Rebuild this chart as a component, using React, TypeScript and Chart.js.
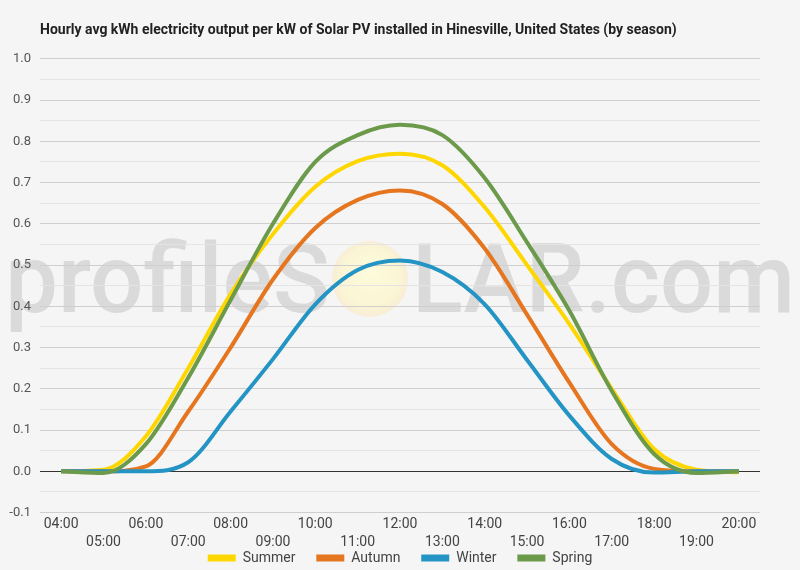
import React, { useEffect, useRef } from "react";
import { Chart, registerables } from "chart.js";

Chart.register(...registerables);

const hours = ["04:00","05:00","06:00","07:00","08:00","09:00","10:00","11:00","12:00","13:00","14:00","15:00","16:00","17:00","18:00","19:00","20:00"];
const summer = [0, 0.004, 0.085, 0.25, 0.43, 0.575, 0.69, 0.752, 0.77, 0.742, 0.64, 0.5, 0.357, 0.2, 0.054, 0.004, -0.002];
const autumn = [0, 0, 0.012, 0.145, 0.3, 0.465, 0.59, 0.658, 0.681, 0.648, 0.54, 0.38, 0.215, 0.066, 0.006, 0, 0];
const winter = [0, 0, 0, 0.022, 0.145, 0.272, 0.405, 0.488, 0.511, 0.483, 0.405, 0.27, 0.135, 0.03, -0.003, 0, 0];
const spring = [0, -0.004, 0.066, 0.227, 0.415, 0.6, 0.75, 0.815, 0.84, 0.815, 0.711, 0.555, 0.389, 0.195, 0.042, -0.004, 0];

const seriesNames = ["Summer", "Autumn", "Winter", "Spring"];
const seriesColors = ["#FFD700", "#E5761F", "#2394C4", "#6C9A4B"];
const titleText = "Hourly avg kWh electricity output per kW of Solar PV installed in Hinesville, United States (by season)";

const bgPlugin = {
  id: "bgWatermark",
  beforeDraw(chart: any) {
    const ctx = chart.ctx;
    ctx.save();
    ctx.fillStyle = "#f5f5f5";
    ctx.fillRect(0, 0, chart.width, chart.height);
    ctx.fillStyle = "#dadada";
    ctx.font = "500 96px Roboto";
    ctx.textBaseline = "alphabetic";
    ctx.textAlign = "left";
    const left = "profileS";
    const right = "LAR.com";
    const wl = ctx.measureText(left).width;
    ctx.save();
    ctx.translate(5, 312);
    ctx.scale(325 / wl, 1);
    ctx.fillText(left, 0, 0);
    ctx.restore();
    const wr = ctx.measureText(right).width;
    ctx.save();
    ctx.translate(412, 312);
    ctx.scale(383 / wr, 1);
    ctx.fillText(right, 0, 0);
    ctx.restore();
    const g = ctx.createRadialGradient(370, 270, 4, 370, 279, 38);
    g.addColorStop(0, "rgba(253,251,218,0.95)");
    g.addColorStop(0.75, "rgba(251,245,208,0.9)");
    g.addColorStop(1, "rgba(249,236,208,0.85)");
    ctx.fillStyle = g;
    ctx.beginPath();
    ctx.arc(370, 279, 38, 0, Math.PI * 2);
    ctx.fill();
    ctx.restore();
  },
};

export default function App() {
  const ref = useRef<HTMLCanvasElement | null>(null);
  useEffect(() => {
    if (!ref.current) return;
    const data = [summer, autumn, winter, spring];
    const gap = "\u00A0\u00A0\u00A0\u00A0\u00A0\u00A0";
    const chart = new Chart(ref.current, {
      type: "line",
      data: {
        labels: hours.map((h, i) => (i % 2 === 0 ? [h] : ["", h])),
        datasets: data.map((d, i) => ({
          label: seriesNames[i],
          data: d,
          borderColor: seriesColors[i],
          backgroundColor: seriesColors[i],
          borderWidth: 4,
          pointRadius: 0,
          cubicInterpolationMode: "monotone",
          fill: false,
          yAxisID: "y",
          order: 3 - i,
        })),
      },
      options: {
        animation: false,
        responsive: false,
        devicePixelRatio: 1,
        layout: { padding: { left: 0, right: 0, top: 0, bottom: -1 } },
        plugins: {
          title: {
            display: true,
            text: titleText,
            align: "start",
            fullSize: false,
            color: "#222",
            font: { family: "Roboto", size: 14, weight: "bold", lineHeight: 1.2 },
            padding: { top: 22, bottom: 20 },
          },
          legend: {
            position: "bottom",
            maxHeight: 20,
            labels: {
              boxWidth: 28,
              boxHeight: 7,
              padding: 0,
              color: "#444",
              font: { family: "Roboto", size: 14 },
              sort: (a: any, b: any) => a.datasetIndex - b.datasetIndex,
              generateLabels: (c: any) =>
                (Chart as any).defaults.plugins.legend.labels.generateLabels(c).map((l: any) => ({
                  ...l,
                  text: l.datasetIndex < seriesNames.length - 1 ? l.text + gap : l.text,
                  lineWidth: 0,
                  fillStyle: seriesColors[l.datasetIndex],
                  strokeStyle: seriesColors[l.datasetIndex],
                })),
            },
          },
          tooltip: { enabled: false },
        },
        scales: {
          x: {
            type: "category",
            offset: true,
            grid: { display: false, drawTicks: false },
            border: { display: false },
            afterFit: (s: any) => { s.height = s.height - 4; },
            ticks: {
              autoSkip: false,
              maxRotation: 0,
              padding: 3,
              color: "#444",
              font: { family: "Roboto", size: 14, lineHeight: 1.3 },
            },
          },
          y: {
            position: "left",
            min: -0.1,
            max: 1.0,
            border: { display: false },
            afterFit: (s: any) => { s.width = 40; },
            grid: {
              drawTicks: false,
              lineWidth: 1,
              color: (c: any) => {
                const n = Math.round(c.tick.value * 20);
                if (n === 0) return "#333333";
                return n % 2 === 0 ? "#cfcfcf" : "#e4e4e4";
              },
            },
            ticks: {
              stepSize: 0.05,
              padding: 9,
              color: "#555",
              font: { family: "Roboto", size: 13 },
              callback: (v: any) => {
                const n = Math.round(Number(v) * 20);
                return n % 2 === 0 ? (n / 20).toFixed(1) : "";
              },
            },
          },
          y2: {
            position: "right",
            min: -0.1,
            max: 1.0,
            display: true,
            border: { display: false },
            grid: { display: false, drawTicks: false },
            ticks: { display: false },
            afterFit: (s: any) => { s.width = 40; },
          },
        },
      },
      plugins: [bgPlugin],
    } as any);
    return () => chart.destroy();
  }, []);
  return (
    <div style={{ position: "fixed", left: 0, top: 0, width: 800, height: 570 }}>
      <canvas ref={ref} width={800} height={570} />
    </div>
  );
}
